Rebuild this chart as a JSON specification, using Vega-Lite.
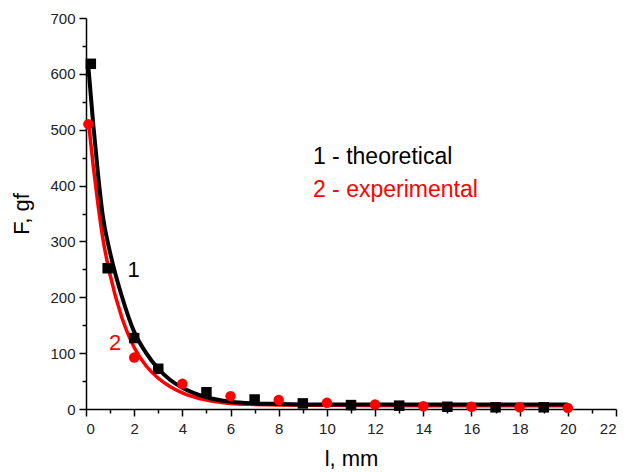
{
  "$schema": "https://vega.github.io/schema/vega-lite/v6.json",
  "width": 530,
  "height": 391,
  "autosize": {"type": "none"},
  "padding": {"left": 86, "top": 18, "right": 15, "bottom": 63},
  "background": "white",
  "config": {
    "view": {"stroke": null},
    "font": "Liberation Sans",
    "axis": {"grid": false, "domainColor": "#000", "domainWidth": 1.5, "tickColor": "#000", "tickWidth": 1.5, "labelFont": "Liberation Sans", "labelFontSize": 15, "labelColor": "#222", "titleFont": "Liberation Sans", "titleFontSize": 22, "titleFontWeight": "normal", "titleColor": "#000"}
  },
  "datasets": {
    "theory_curve": [
      {"l": 0.1, "F": 612}, {"l": 0.3, "F": 510}, {"l": 0.5, "F": 420}, {"l": 0.7, "F": 345},
      {"l": 1.0, "F": 280}, {"l": 1.5, "F": 200}, {"l": 2.0, "F": 138}, {"l": 2.5, "F": 100},
      {"l": 3.0, "F": 72}, {"l": 3.5, "F": 52}, {"l": 4.0, "F": 38}, {"l": 5.0, "F": 21},
      {"l": 6.0, "F": 13}, {"l": 7.0, "F": 10}, {"l": 8.0, "F": 9}, {"l": 10, "F": 8},
      {"l": 14, "F": 8}, {"l": 20, "F": 8}
    ],
    "exp_curve": [
      {"l": 0.1, "F": 515}, {"l": 0.3, "F": 435}, {"l": 0.5, "F": 365}, {"l": 0.7, "F": 305},
      {"l": 1.0, "F": 240}, {"l": 1.5, "F": 162}, {"l": 2.0, "F": 110}, {"l": 2.5, "F": 77},
      {"l": 3.0, "F": 55}, {"l": 3.5, "F": 40}, {"l": 4.0, "F": 29}, {"l": 5.0, "F": 16},
      {"l": 6.0, "F": 10}, {"l": 7.0, "F": 8}, {"l": 8.0, "F": 7}, {"l": 10, "F": 6.5},
      {"l": 14, "F": 6}, {"l": 20, "F": 6}
    ],
    "theory_pts": [
      {"l": 0.2, "F": 618}, {"l": 0.9, "F": 252}, {"l": 2, "F": 127}, {"l": 3, "F": 72},
      {"l": 5, "F": 30}, {"l": 7, "F": 17}, {"l": 9, "F": 10}, {"l": 11, "F": 7},
      {"l": 13, "F": 6}, {"l": 15, "F": 4}, {"l": 17, "F": 3}, {"l": 19, "F": 3}
    ],
    "exp_pts": [
      {"l": 0.1, "F": 510}, {"l": 2, "F": 92}, {"l": 4, "F": 45}, {"l": 6, "F": 23},
      {"l": 8, "F": 16}, {"l": 10, "F": 11}, {"l": 12, "F": 8}, {"l": 14, "F": 5},
      {"l": 16, "F": 4}, {"l": 18, "F": 3}, {"l": 20, "F": 2}
    ],
    "labels": [
      {"l": 9.42, "F": 451, "text": "1 - theoretical", "c": "black", "s": "legend"},
      {"l": 9.42, "F": 392, "text": "2 - experimental", "c": "red", "s": "legend"},
      {"l": 1.72, "F": 249, "text": "1", "c": "black", "s": "tag"},
      {"l": 0.95, "F": 118, "text": "2", "c": "red", "s": "tag"}
    ]
  },
  "resolve": {"axis": {"x": "independent", "y": "independent"}},
  "layer": [
    {
      "data": {"name": "exp_curve"},
      "mark": {"type": "line", "color": "#ff0000", "strokeWidth": 3.5, "interpolate": "monotone"},
      "encoding": {
        "x": {"field": "l", "type": "quantitative", "scale": {"domain": [0, 22], "nice": false},
          "axis": {"orient": "bottom", "values": [1,3,5,7,9,11,13,15,17,19,21], "labels": false, "tickSize": 4, "domain": false, "title": null}},
        "y": {"field": "F", "type": "quantitative", "scale": {"domain": [0, 700], "nice": false},
          "axis": {"orient": "left", "values": [50,150,250,350,450,550,650], "labels": false, "tickSize": 4, "domain": false, "title": null}}
      }
    },
    {
      "data": {"name": "theory_curve"},
      "mark": {"type": "line", "color": "#000000", "strokeWidth": 4, "interpolate": "monotone"},
      "encoding": {
        "x": {"field": "l", "type": "quantitative", "scale": {"domain": [0, 22], "nice": false},
          "axis": {"orient": "bottom", "values": [0,2,4,6,8,10,12,14,16,18,20,22], "tickSize": 7, "labelPadding": 5, "title": "l, mm", "titlePadding": 12}},
        "y": {"field": "F", "type": "quantitative", "scale": {"domain": [0, 700], "nice": false},
          "axis": {"orient": "left", "values": [0,100,200,300,400,500,600,700], "tickSize": 7, "labelPadding": 4, "title": "F, gf", "titlePadding": 16}}
      }
    },
    {
      "data": {"name": "theory_pts"},
      "mark": {"type": "square", "color": "#000000", "opacity": 1, "size": 110},
      "encoding": {
        "x": {"field": "l", "type": "quantitative", "axis": null},
        "y": {"field": "F", "type": "quantitative", "axis": null}
      }
    },
    {
      "data": {"name": "exp_pts"},
      "mark": {"type": "circle", "color": "#ff0000", "opacity": 1, "size": 110},
      "encoding": {
        "x": {"field": "l", "type": "quantitative", "axis": null},
        "y": {"field": "F", "type": "quantitative", "axis": null}
      }
    },
    {
      "data": {"name": "labels"},
      "mark": {"type": "text", "align": "left", "baseline": "middle", "font": "Liberation Sans"},
      "encoding": {
        "x": {"field": "l", "type": "quantitative", "axis": null},
        "y": {"field": "F", "type": "quantitative", "axis": null},
        "text": {"field": "text"},
        "size": {"field": "s", "type": "nominal", "scale": {"domain": ["legend", "tag"], "range": [23, 22]}, "legend": null},
        "color": {"field": "c", "type": "nominal", "scale": {"domain": ["black", "red"], "range": ["#000000", "#ff0000"]}, "legend": null}
      }
    }
  ]
}
